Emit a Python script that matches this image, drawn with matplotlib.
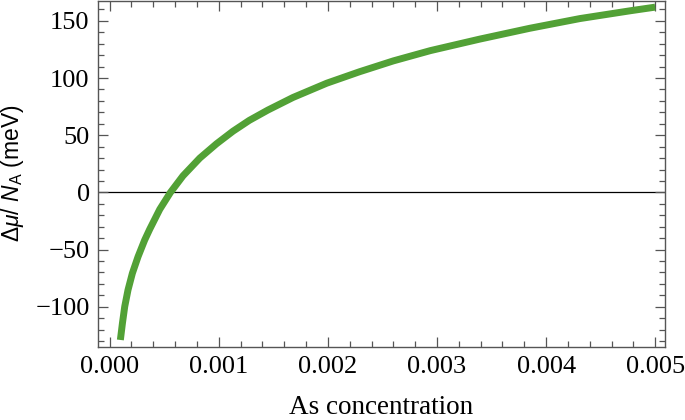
import matplotlib
matplotlib.use("Agg")
import matplotlib.pyplot as plt
from matplotlib.ticker import MultipleLocator, FormatStrFormatter

# Data
conc = [0.000098, 0.000117, 0.000138, 0.000168, 0.000208, 0.00026, 0.000321, 0.000367,
        0.000459, 0.000557, 0.000672, 0.000826, 0.000979, 0.00113, 0.00128, 0.00145,
        0.00168, 0.00199, 0.00229, 0.0026, 0.00294, 0.00339, 0.00385, 0.00431,
        0.00477, 0.005]
dmu = [-129, -114.3, -99.8, -85.3, -70.7, -56.2, -41.6, -32.2,
       -14.8, 0, 14.5, 30, 42.5, 53.5, 63, 72,
       83, 95.5, 105.5, 115, 124, 134, 143.5, 152,
       158.8, 162]

xticks = [0.000, 0.001, 0.002, 0.003, 0.004, 0.005]
yticks = [-100, -50, 0, 50, 100, 150]

plt.rcParams['mathtext.fontset'] = 'custom'
plt.rcParams['mathtext.rm'] = 'Liberation Sans'
plt.rcParams['mathtext.it'] = 'Liberation Sans:italic'

fig = plt.figure(figsize=(6.85, 4.2), dpi=100)
ax = fig.add_axes([98/685, 1 - 346.7/420, (665-98)/685, (346.7-0.5)/420])

ax.axhline(0, color='black', lw=0.9, zorder=1)
ax.plot(conc, dmu, color='#52a136', lw=5, solid_capstyle='butt',
        solid_joinstyle='round', zorder=2)

ax.set_xlim(-0.000107, 0.00509)
ax.set_ylim(-134.9, 167.8)

ax.set_xticks(xticks)
ax.set_yticks(yticks)
ax.xaxis.set_minor_locator(MultipleLocator(0.0002))
ax.yaxis.set_minor_locator(MultipleLocator(10))
ax.xaxis.set_major_formatter(FormatStrFormatter('%.3f'))

def yfmt(v, pos):
    return ('\u2212' + str(int(abs(v)))) if v < 0 else str(int(v))
ax.yaxis.set_major_formatter(plt.FuncFormatter(yfmt))

frame_col = '#555555'
for s in ax.spines.values():
    s.set_color(frame_col)
    s.set_linewidth(1.0)

ax.tick_params(which='both', direction='in', top=True, right=True, color=frame_col, width=0.9)
ax.tick_params(which='major', length=7, labelsize=19, pad=6)
ax.tick_params(which='minor', length=4)
ax.tick_params(axis='x', which='major', pad=7)
for lab in ax.get_xticklabels() + ax.get_yticklabels():
    lab.set_fontfamily('Liberation Serif')

ax.set_xlabel('As concentration', fontfamily='Liberation Serif', fontsize=19.5, labelpad=12)
ax.set_ylabel(r'$\Delta\mu/\ N_{\rm A}$ (meV)', fontfamily='Liberation Sans', fontsize=16.5, labelpad=7)

fig.savefig('out.png', dpi=100)
